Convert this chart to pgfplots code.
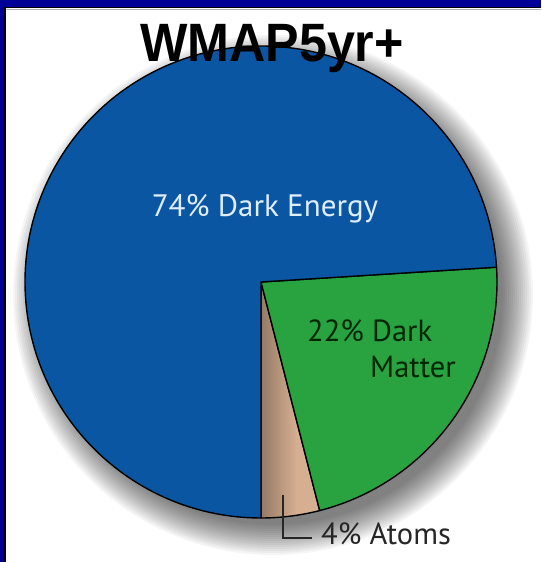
\documentclass[border=0pt]{standalone}
\usepackage{pgfplots}
\pgfplotsset{compat=1.18}
\usepackage{pgfplotstable}
\usepackage{fontspec}
\setmainfont{PT Sans}
\newfontfamily\titlefont{Liberation Sans}

\definecolor{frame}{RGB}{0,0,150}
\definecolor{energy}{RGB}{11,86,162}
\definecolor{matter}{RGB}{40,163,64}
\definecolor{atoms}{RGB}{214,174,145}
\definecolor{lightlab}{RGB}{222,238,255}

% share of each component, percent
\pgfplotstableread{
part value
Atoms 4
DarkMatter 22
DarkEnergy 74
}\piedata

\pgfplotstablegetelem{0}{value}\of\piedata \let\vAtoms\pgfplotsretval
\pgfplotstablegetelem{1}{value}\of\piedata \let\vMatter\pgfplotsretval
\pgfplotstablegetelem{2}{value}\of\piedata \let\vEnergy\pgfplotsretval
\pgfmathsetmacro\aStart{270}
\pgfmathsetmacro\aOne{\aStart+3.6*\vAtoms}
\pgfmathsetmacro\aTwo{\aOne+3.6*\vMatter}
\pgfmathsetmacro\aThree{\aTwo+3.6*\vEnergy}

\newcommand{\slicepath}[2]{%
  (axis cs:0,0) -- (axis cs:{cos(#1)},{sin(#1)})
    arc[start angle=#1, end angle=#2, radius=236pt] -- cycle}
\newcommand{\slice}[3]{%
  \filldraw[fill=#3, draw=black, line width=1.4pt, line join=round]
    \slicepath{#1}{#2};}

\begin{document}
\begin{tikzpicture}[x=1pt,y=1pt]
\useasboundingbox (0,0) rectangle (541,562);
\clip (0,0) rectangle (541,562);
\fill[white] (0,0) rectangle (541,562);

% soft shadow under the pie: stacked faint discs
\foreach \r in {260,258,...,230}
  \fill[black, opacity=0.04] (273,267) circle[radius=\r];

% frame
\fill[frame] (0,555) rectangle (541,562);
\fill[frame] (0,0) rectangle (4,562);
\fill[black] (4,0) rectangle (6,555);
\fill[black] (4,553.5) rectangle (541,555);
\draw[gray!60, line width=0.8pt] (6,552.8) -- (541,552.8);

\begin{axis}[
  at={(261pt,280pt)}, anchor=center,
  width=472pt, height=472pt, scale only axis,
  xmin=-1, xmax=1, ymin=-1, ymax=1,
  hide axis, clip=false,
]
\addplot[draw=none] coordinates {(0,0)};
\begin{scope}
  \clip \slicepath{\aStart}{\aOne};
  \shade[left color=atoms!70!black, right color=atoms, middle color=atoms]
    (axis cs:0,-1) rectangle (axis cs:0.3,0);
\end{scope}
\draw[black, line width=1.4pt, line join=round] \slicepath{\aStart}{\aOne};
\slice{\aOne}{\aTwo}{matter}
\slice{\aTwo}{\aThree}{energy}
\end{axis}

% labels
\node[anchor=base, text=lightlab, font=\fontsize{31}{34}\selectfont] at (265,345) {74\% Dark Energy};
\node[anchor=base west, inner sep=0pt, text=black!85!green, font=\fontsize{30.5}{34}\selectfont] at (307,220) {22\% Dark};
\node[anchor=base west, inner sep=0pt, text=black!85!green, font=\fontsize{30.5}{34}\selectfont] at (370,184) {Matter};
\draw[black!85, line width=1.2pt] (283,67) -- (283,24) -- (312,24);
\node[anchor=base west, inner sep=0pt, text=black!85, font=\fontsize{30.5}{34}\selectfont] at (321,17) {4\% Atoms};

% title
\node[anchor=base, xscale=0.93, inner sep=0pt, font=\titlefont\bfseries\fontsize{54}{60}\selectfont] at (272,500) {WMAP5yr+};
\end{tikzpicture}
\end{document}
